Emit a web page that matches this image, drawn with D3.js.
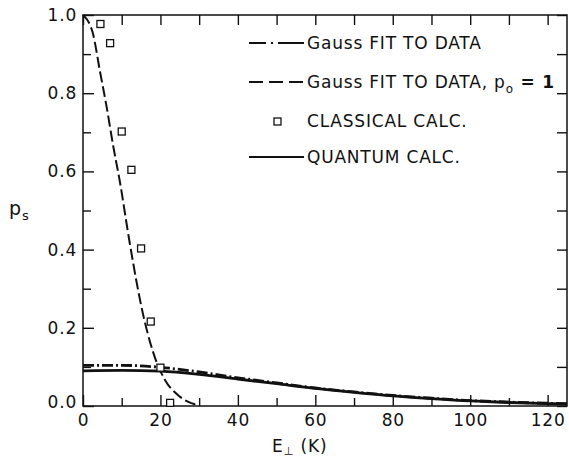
<!DOCTYPE html>
<html>
<head>
<meta charset="utf-8">
<script src="https://cdn.jsdelivr.net/npm/d3@7"></script>
<style>
  body { margin: 0; background: #fff; }
  svg { display: block; }
  text { font-family: "DejaVu Sans", sans-serif; font-size: 17px; fill: #111; letter-spacing: 0.8px; }
</style>
</head>
<body>
<svg id="chart" width="569" height="459"></svg>
<script>
// values
var classicalE = [4.5, 7, 10, 12.5, 15, 17.5, 20, 22.5];
var classicalP = [0.977, 0.928, 0.702, 0.604, 0.403, 0.216, 0.098, 0.008];

var gaussP1E = [0, 2.5, 4.4, 6.1, 7.8, 9.5, 12.1, 15.5, 18.9, 21.1, 25, 29.3];
var gaussP1P = [1.0, 0.955, 0.855, 0.765, 0.665, 0.575, 0.415, 0.235, 0.115, 0.068, 0.024, 0.003];

var curveE = [0, 10, 20, 30, 40, 50, 60, 70, 80, 90, 100, 110, 120, 125];
var gaussFitP = [0.104, 0.104, 0.099, 0.087, 0.072, 0.059, 0.046, 0.036, 0.027, 0.020, 0.014, 0.010, 0.007, 0.006];
var quantumP = [0.090, 0.091, 0.089, 0.081, 0.069, 0.057, 0.045, 0.035, 0.026, 0.019, 0.013, 0.009, 0.006, 0.005];

var xMajor = [0, 20, 40, 60, 80, 100, 120];
var xMinor = [10, 30, 50, 70, 90, 110];
var yMajor = [0, 0.2, 0.4, 0.6, 0.8, 1.0];
var yMinor = [0.1, 0.3, 0.5, 0.7, 0.9];

var svg = d3.select('#chart');
var plotL = 83, plotR = 567, plotT = 15, plotB = 406;

var x = d3.scaleLinear().domain([0, 125]).range([plotL, plotR]);
var y = d3.scaleLinear().domain([0, 1]).range([plotB, plotT]);

// frame
svg.append('rect')
    .attr('x', plotL).attr('y', plotT)
    .attr('width', plotR - plotL).attr('height', plotB - plotT)
    .attr('fill', 'none').attr('stroke', '#111').attr('stroke-width', 1.5);

function styleAxis(g) {
    g.select('.domain').remove();
    g.selectAll('.tick line').attr('stroke', '#111').attr('stroke-width', 1.4);
}

// bottom ticks (inward) with labels
svg.append('g').attr('transform', 'translate(0,' + plotB + ')')
    .call(d3.axisBottom(x).tickValues(xMajor).tickSize(-11).tickPadding(8).tickFormat(d3.format('d')))
    .call(styleAxis)
    .selectAll('text').attr('font-size', null).attr('font-family', null).attr('fill', null);
svg.append('g').attr('transform', 'translate(0,' + plotB + ')')
    .call(d3.axisBottom(x).tickValues(xMinor).tickSize(-8).tickFormat(''))
    .call(styleAxis);

// left ticks with labels
svg.append('g').attr('transform', 'translate(' + plotL + ',0)')
    .call(d3.axisLeft(y).tickValues(yMajor).tickSize(-11).tickPadding(6).tickFormat(d3.format('.1f')))
    .call(styleAxis)
    .selectAll('text').attr('font-size', null).attr('font-family', null).attr('fill', null)
    .attr('y', d => d === 0 ? -4 : 0);
svg.append('g').attr('transform', 'translate(' + plotL + ',0)')
    .call(d3.axisLeft(y).tickValues(yMinor).tickSize(-8).tickFormat(''))
    .call(styleAxis);

// top and right ticks
svg.append('g').attr('transform', 'translate(0,' + plotT + ')')
    .call(d3.axisTop(x).tickValues(xMajor.concat(xMinor)).tickSize(-10).tickFormat(''))
    .call(styleAxis);
svg.append('g').attr('transform', 'translate(' + plotR + ',0)')
    .call(d3.axisRight(y).tickValues(yMajor.concat(yMinor)).tickSize(-10).tickFormat(''))
    .call(styleAxis);

// curves
var line = d3.line().x(d => x(d[0])).y(d => y(d[1])).curve(d3.curveMonotoneX);

svg.append('path')
    .datum(d3.zip(curveE, quantumP))
    .attr('d', line)
    .attr('fill', 'none').attr('stroke', '#111').attr('stroke-width', 2.8);

svg.append('path')
    .datum(d3.zip(curveE, gaussFitP))
    .attr('d', line)
    .attr('fill', 'none').attr('stroke', '#111').attr('stroke-width', 2.8)
    .attr('stroke-dasharray', '11,3,2,3');

svg.append('path')
    .datum(d3.zip(gaussP1E, gaussP1P))
    .attr('d', line)
    .attr('fill', 'none').attr('stroke', '#111').attr('stroke-width', 2)
    .attr('stroke-dasharray', '11,4');

// classical squares
svg.selectAll('.sq').data(d3.zip(classicalE, classicalP)).enter()
    .append('rect').attr('class', 'sq')
    .attr('x', d => x(d[0]) - 3.5).attr('y', d => y(d[1]) - 3.5)
    .attr('width', 7).attr('height', 7)
    .attr('fill', '#fff').attr('stroke', '#111').attr('stroke-width', 1.3);

// legend
var lx0 = 249, lx1 = 304, tx = 307;
svg.append('line').attr('x1', lx0).attr('x2', lx1).attr('y1', 43).attr('y2', 43)
    .attr('stroke', '#111').attr('stroke-width', 2).attr('stroke-dasharray', '17,5,2,5,30');
svg.append('text').attr('x', tx).attr('y', 49).text('Gauss FIT TO DATA');

svg.append('line').attr('x1', lx0).attr('x2', lx1).attr('y1', 82).attr('y2', 82)
    .attr('stroke', '#111').attr('stroke-width', 2).attr('stroke-dasharray', '14,6');
var t2 = svg.append('text').attr('x', tx).attr('y', 88);
t2.append('tspan').text('Gauss FIT TO DATA, p');
t2.append('tspan').attr('font-size', 12).attr('dy', 5).text('o');
t2.append('tspan').attr('dy', -5).attr('font-weight', 'bold').text(' = 1');

svg.append('rect').attr('x', 274).attr('y', 118).attr('width', 7).attr('height', 7)
    .attr('fill', '#fff').attr('stroke', '#111').attr('stroke-width', 1.3);
svg.append('text').attr('x', tx).attr('y', 127).text('CLASSICAL CALC.');

svg.append('line').attr('x1', lx0).attr('x2', lx1).attr('y1', 157).attr('y2', 157)
    .attr('stroke', '#111').attr('stroke-width', 2);
svg.append('text').attr('x', tx).attr('y', 163).text('QUANTUM CALC.');

// axis titles
var xt = svg.append('text').attr('x', 272).attr('y', 452);
xt.append('tspan').text('E');
xt.append('tspan').attr('font-size', 10).attr('dy', 3)
    .style('font-family', '"Noto Sans CJK JP", "DejaVu Sans", sans-serif').text('\u22A5');
xt.append('tspan').attr('dy', -3).text(' (K)');

var yt = svg.append('text').attr('x', 9).attr('y', 215);
yt.append('tspan').attr('font-size', 19).text('p');
yt.append('tspan').attr('font-size', 13).attr('dy', 5).text('s');
</script>
</body>
</html>
